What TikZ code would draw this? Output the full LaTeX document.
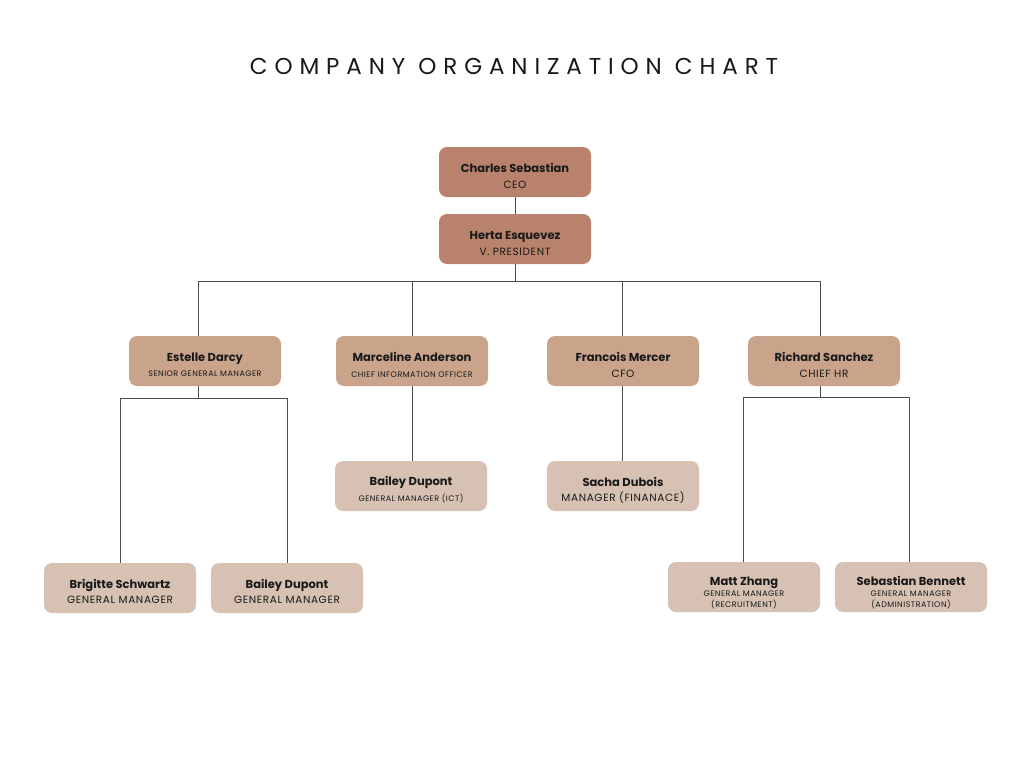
\documentclass[tikz,border=0pt]{standalone}
\usepackage{fontspec}
\setmainfont{Poppins}
\newfontfamily\titlefont[LetterSpace=30]{Poppins}
\newfontfamily\rolefont[LetterSpace=6]{Poppins}
\begin{document}
\begin{tikzpicture}[x=1pt,y=-1pt,
  box/.style={rounded corners=8pt,minimum width=152pt,minimum height=50pt,inner sep=0pt,align=center,text=black!90,font=\fontsize{10}{12}\selectfont},
  top/.style={box,fill=topc},
  mid/.style={box,fill=midc},
  low/.style={box,fill=lowc},
  link/.style={draw=black!70,line width=0.8pt}]
\definecolor{topc}{HTML}{B9826C}
\definecolor{midc}{HTML}{C9A48B}
\definecolor{lowc}{HTML}{D6C1B2}
\useasboundingbox[fill=white] (0,0) rectangle (1024,768);
\node[font=\titlefont\fontsize{23}{26}\selectfont,text=black!90] (title) at (514,66) {COMPANY ORGANIZATION CHART};

\newcommand{\nm}[1]{{\bfseries\fontsize{11.5}{12}\selectfont\rule{0pt}{17pt}#1}}
\newcommand{\nmt}[1]{{\bfseries\fontsize{11.5}{12}\selectfont\rule{0pt}{21pt}#1}}
\newcommand{\rl}[1]{{\rolefont\fontsize{10.5}{12}\selectfont #1}}
\newcommand{\sm}[1]{{\rolefont\fontsize{8}{12}\selectfont #1}}

\node[top] (ceo) at (515,172) {\nm{Charles Sebastian}\\[4pt]\rl{CEO}};
\node[top] (vp) at (515,239) {\nm{Herta Esquevez}\\[4pt]\rl{V. PRESIDENT}};

\node[mid] (est) at (205,361) {\nm{Estelle Darcy}\\[3pt]\sm{SENIOR GENERAL MANAGER}};
\node[mid] (mar) at (412,361) {\nm{Marceline Anderson}\\[4pt]\sm{CHIEF INFORMATION OFFICER}};
\node[mid] (fra) at (623,361) {\nm{Francois Mercer}\\[4pt]\rl{CFO}};
\node[mid] (ric) at (824,361) {\nm{Richard Sanchez}\\[4pt]\rl{CHIEF HR}};

\node[low] (bai1) at (411,486) {\nm{Bailey Dupont}\\[4pt]\sm{GENERAL MANAGER (ICT)}};
\node[low] (sac) at (623,486) {\nm{Sacha Dubois}\\[3pt]\rl{MANAGER (FINANACE)}};

\node[low] (bri) at (120,588) {\nm{Brigitte Schwartz}\\[3pt]\rl{GENERAL MANAGER}};
\node[low] (bai2) at (287,588) {\nm{Bailey Dupont}\\[3pt]\rl{GENERAL MANAGER}};
\node[low] (mat) at (744,587) {\nmt{Matt Zhang}\\[-1pt]\sm{GENERAL MANAGER}\\[-1pt]\sm{(RECRUITMENT)}};
\node[low] (seb) at (911,587) {\nmt{Sebastian Bennett}\\[-1pt]\sm{GENERAL MANAGER}\\[-1pt]\sm{(ADMINISTRATION)}};

\coordinate (h1) at (515,281);
\coordinate (h2) at (205,398);
\coordinate (h3) at (824,397);

\draw[link] (ceo.south) -- (vp.north);
\draw[link] (vp.south) -- (h1);
\draw[link] (h1) -| ([xshift=-7pt]est.north);
\draw[link] (h1) -| (mar.north);
\draw[link] (h1) -| ([xshift=-1pt]fra.north);
\draw[link] (h1) -| ([xshift=-4pt]ric.north);

\draw[link] ([xshift=-7pt]est.south) -- ([xshift=-7pt]h2);
\draw[link] ([xshift=-7pt]h2) -| (bri.north);
\draw[link] ([xshift=-7pt]h2) -| (bai2.north);

\draw[link] (mar.south) -- (bai1.north -| mar.south);
\draw[link] ([xshift=-1pt]fra.south) -- ([xshift=-1pt]sac.north);

\draw[link] ([xshift=-4pt]ric.south) -- ([xshift=-4pt]h3);
\draw[link] ([xshift=-4pt]h3) -| ([xshift=-1pt]mat.north);
\draw[link] ([xshift=-4pt]h3) -| ([xshift=-2pt]seb.north);
\end{tikzpicture}
\end{document}
